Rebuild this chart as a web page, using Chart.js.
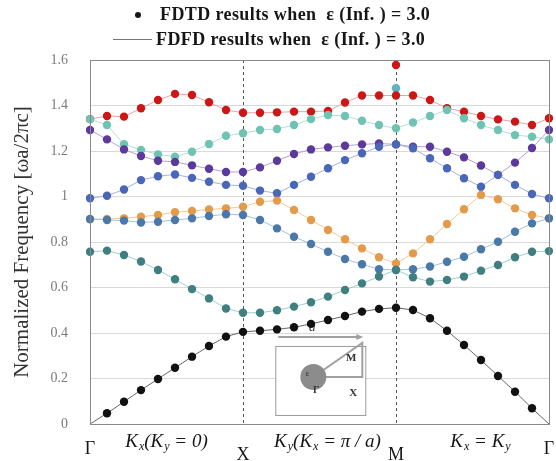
<!DOCTYPE html>
<html>
<head>
<meta charset="utf-8">
<script src="https://cdn.jsdelivr.net/npm/chart.js@4"></script>
<style>
html, body { margin: 0; padding: 0; background: #fff; }
</style>
</head>
<body>
<canvas id="myChart" width="556" height="461"></canvas>
<script>
// k-path: Gamma -> X -> M -> Gamma, 9 steps each
const kPoints = Array.from({ length: 28 }, (_, i) => i)
const symLabels = ['Γ', 'X', 'M', 'Γ']
const symIndex = [0, 9, 18, 27]
const yTicks = [0, 0.2, 0.4, 0.6, 0.8, 1, 1.2, 1.4, 1.6]
const legendText = ['FDTD results when  ε (Inf. ) = 3.0', 'FDFD results when  ε (Inf. ) = 3.0']

// normalized frequency of each band
const band1 = [0, 0.047, 0.098, 0.149, 0.198, 0.247, 0.296, 0.343, 0.384, 0.405,
  0.41, 0.416, 0.425, 0.44, 0.457, 0.475, 0.494, 0.506, 0.511,
  0.501, 0.465, 0.41, 0.347, 0.281, 0.211, 0.142, 0.069, 0]
const band2 = [0.757, 0.762, 0.743, 0.714, 0.677, 0.636, 0.593, 0.552, 0.508, 0.489,
  0.489, 0.5, 0.516, 0.535, 0.56, 0.589, 0.618, 0.648, 0.677,
  0.645, 0.626, 0.633, 0.648, 0.674, 0.699, 0.733, 0.757, 0.76]
const band3 = [0.901, 0.897, 0.894, 0.886, 0.889, 0.897, 0.904, 0.914, 0.922, 0.919,
  0.897, 0.86, 0.823, 0.791, 0.757, 0.725, 0.702, 0.68, 0.677,
  0.68, 0.692, 0.713, 0.735, 0.768, 0.801, 0.845, 0.882, 0.904]
const band4 = [0.9, 0.901, 0.904, 0.911, 0.919, 0.931, 0.936, 0.943, 0.948, 0.955,
  0.977, 0.982, 0.941, 0.897, 0.853, 0.812, 0.772, 0.733, 0.706,
  0.75, 0.812, 0.879, 0.944, 1.007, 0.988, 0.948, 0.919, 0.904]
const band5 = [0.992, 1.003, 1.031, 1.072, 1.089, 1.097, 1.082, 1.065, 1.051, 1.047,
  1.026, 1.014, 1.051, 1.087, 1.124, 1.16, 1.19, 1.219, 1.229,
  1.212, 1.168, 1.124, 1.08, 1.043, 1.095, 1.051, 1.011, 0.992]
const band6 = [1.292, 1.251, 1.207, 1.178, 1.157, 1.152, 1.137, 1.122, 1.108, 1.108,
  1.128, 1.157, 1.187, 1.207, 1.216, 1.223, 1.229, 1.233, 1.229,
  1.219, 1.219, 1.197, 1.172, 1.136, 1.095, 1.149, 1.213, 1.292]
const band7 = [1.34, 1.314, 1.23, 1.205, 1.185, 1.175, 1.197, 1.231, 1.267, 1.278,
  1.292, 1.297, 1.314, 1.34, 1.358, 1.354, 1.333, 1.314, 1.3,
  1.325, 1.354, 1.38, 1.344, 1.314, 1.292, 1.27, 1.263, 1.251]
const band8 = [1.34, 1.354, 1.351, 1.388, 1.424, 1.451, 1.446, 1.414, 1.38, 1.368,
  1.368, 1.37, 1.373, 1.373, 1.376, 1.413, 1.444, 1.444, 1.444,
  1.444, 1.424, 1.388, 1.373, 1.354, 1.339, 1.329, 1.314, 1.344]
// lone points seen only at M
const extraRed = kPoints.map(i => i === 18 ? 1.578 : null)
const extraTeal = kPoints.map(i => i === 18 ? 1.476 : null)

const bands = [band1, band2, band3, band4, band5, band6, band7, band8, extraTeal, extraRed]
const dotColors = ['#111111', '#3f7f80', '#4a78a8', '#e39a4a', '#4a66b8', '#5b3a9c', '#6fc3b2', '#cc1717', '#5fb4c0', '#cc1717']
const lineColors = ['#666666', '#9fd0c8', '#a4c0dc', '#f2c996', '#a4b2dc', '#b1a2cf', '#b2e0d6', '#eaa3a3', '#b2e0d6', '#eaa3a3']

const serif = '"Liberation Serif", "DejaVu Serif", serif'

// draws text pieces with italic subscripts, centred on x
function drawSub(ctx, pieces, cx, cy) {
  const big = 'italic 19px ' + serif
  const small = 'italic 12px ' + serif
  let w = 0
  pieces.forEach(p => {
    ctx.font = big; w += ctx.measureText(p[0]).width
    ctx.font = small; w += ctx.measureText(p[1]).width + (p[1] ? 1 : 0)
  })
  let x = cx - w / 2
  ctx.textAlign = 'left'
  ctx.textBaseline = 'middle'
  pieces.forEach(p => {
    ctx.font = big
    ctx.fillText(p[0], x, cy)
    x += ctx.measureText(p[0]).width
    if (p[1]) {
      ctx.font = small
      ctx.fillText(p[1], x + 1, cy + 5)
      x += ctx.measureText(p[1]).width + 1
    }
  })
}

const segLabels = [
  [['K', 'x'], ['(K', 'y'], [' = 0)', '']],
  [['K', 'y'], ['(K', 'x'], [' = π / a)', '']],
  [['K', 'x'], [' = K', 'y']]
]

const decor = {
  id: 'decor',
  beforeDatasetsDraw(chart) {
    const { ctx, chartArea: a, scales } = chart
    ctx.save()
    // dashed lines at X and M
    ctx.strokeStyle = '#555'
    ctx.lineWidth = 1
    ctx.setLineDash([3, 3])
    symIndex.slice(1, 3).forEach(i => {
      const x = Math.round(scales.x.getPixelForValue(i)) + 0.5
      ctx.beginPath(); ctx.moveTo(x, a.top); ctx.lineTo(x, a.bottom); ctx.stroke()
    })
    ctx.setLineDash([])
    // inset: unit cell sketch
    const ox = scales.x.getPixelForValue(10.9)
    const oy = scales.y.getPixelForValue(0.343)
    ctx.fillStyle = '#fff'
    ctx.fillRect(ox, oy, 90, 69)
    ctx.strokeStyle = '#9a9a9a'
    ctx.strokeRect(ox + 0.5, oy + 0.5, 90, 69)
    ctx.lineWidth = 2
    ctx.strokeStyle = '#a0a0a0'
    ctx.beginPath()
    ctx.moveTo(ox + 3, oy - 9); ctx.lineTo(ox + 85, oy - 9)
    ctx.stroke()
    ctx.fillStyle = '#a0a0a0'
    ctx.beginPath()
    ctx.moveTo(ox + 88, oy - 9); ctx.lineTo(ox + 81, oy - 12); ctx.lineTo(ox + 81, oy - 6); ctx.fill()
    const cx = ox + 38, cy = oy + 31
    ctx.beginPath()
    ctx.moveTo(cx, cy); ctx.lineTo(ox + 87, oy - 3); ctx.lineTo(ox + 87, cy); ctx.lineTo(cx, cy)
    ctx.stroke()
    ctx.fillStyle = '#8c8c8c'
    ctx.beginPath(); ctx.arc(cx, cy, 13, 0, Math.PI * 2); ctx.fill()
    ctx.fillStyle = '#333'
    ctx.textAlign = 'center'; ctx.textBaseline = 'middle'
    ctx.font = 'bold 11px ' + serif
    ctx.fillText('M', ox + 76, oy + 12)
    ctx.fillText('X', ox + 78, oy + 47)
    ctx.font = 'bold 10px ' + serif
    ctx.fillText('Γ', cx + 3, cy + 13)
    ctx.font = '9px ' + serif
    ctx.fillText('ε', cx - 6, cy - 3)
    ctx.font = 'italic 13px ' + serif
    ctx.fillText('a', ox + 37, oy - 18)
    ctx.restore()
  },
  afterDraw(chart) {
    const { ctx, chartArea: a, scales } = chart
    ctx.save()
    // frame
    ctx.strokeStyle = '#8a8a8a'
    ctx.lineWidth = 1
    ctx.strokeRect(a.left + 0.5, a.top + 0.5, a.right - a.left, a.bottom - a.top)
    // legend
    ctx.fillStyle = '#161616'
    ctx.font = 'bold 18px ' + serif
    ctx.letterSpacing = '0.4px'
    ctx.textAlign = 'left'
    ctx.textBaseline = 'middle'
    ctx.beginPath(); ctx.arc(138, 15, 3, 0, Math.PI * 2); ctx.fill()
    ctx.fillText(legendText[0], 160, 15)
    ctx.strokeStyle = '#777'
    ctx.beginPath(); ctx.moveTo(113, 39.5); ctx.lineTo(152, 39.5); ctx.stroke()
    ctx.fillText(legendText[1], 156, 40)
    ctx.letterSpacing = '0px'
    // symmetry point labels
    ctx.font = '18px ' + serif
    ctx.textAlign = 'center'
    symLabels.forEach((t, j) => {
      const x = scales.x.getPixelForValue(symIndex[j])
      ctx.fillText(t, x, (j === 0 || j === 3) ? a.bottom + 25 : a.bottom + 31)
    })
    // path segment labels
    segLabels.forEach((p, j) => {
      const mid = (symIndex[j] + symIndex[j + 1]) / 2
      drawSub(ctx, p, scales.x.getPixelForValue(mid) + (j === 0 ? 0 : 8), a.bottom + 18)
    })
    ctx.restore()
  }
}

const ctx = document.getElementById('myChart').getContext('2d')
const myChart = new Chart(ctx, {
  type: 'line',
  data: {
    labels: kPoints,
    datasets: bands.map((b, i) => ({
      data: b,
      borderColor: lineColors[i],
      borderWidth: 1,
      pointBackgroundColor: dotColors[i],
      pointBorderColor: dotColors[i],
      pointBorderWidth: 0,
      pointRadius: ctx => (ctx.raw === 0 ? 0 : 4.2),
      tension: 0,
      fill: false
    }))
  },
  options: {
    responsive: false,
    animation: false,
    layout: { padding: { top: 60, right: 7, bottom: 37, left: 0 } },
    plugins: {
      legend: { display: false },
      tooltip: { enabled: false }
    },
    scales: {
      x: { display: false },
      y: {
        min: 0,
        max: 1.6,
        afterFit: s => { s.width = 90 },
        afterBuildTicks: s => { s.ticks = yTicks.map(v => ({ value: v })) },
        grid: { color: '#d9d9d9', drawTicks: false },
        border: { display: false },
        ticks: {
          padding: 22,
          color: '#7a7a7a',
          font: { family: serif, size: 14 },
          callback: v => String(v)
        },
        title: {
          display: true,
          text: 'Normalized Frequency [ωa/2πc]',
          color: '#333',
          padding: { top: 10, bottom: 0 },
          font: { family: serif, size: 21 }
        }
      }
    }
  },
  plugins: [decor]
})
</script>
</body>
</html>
